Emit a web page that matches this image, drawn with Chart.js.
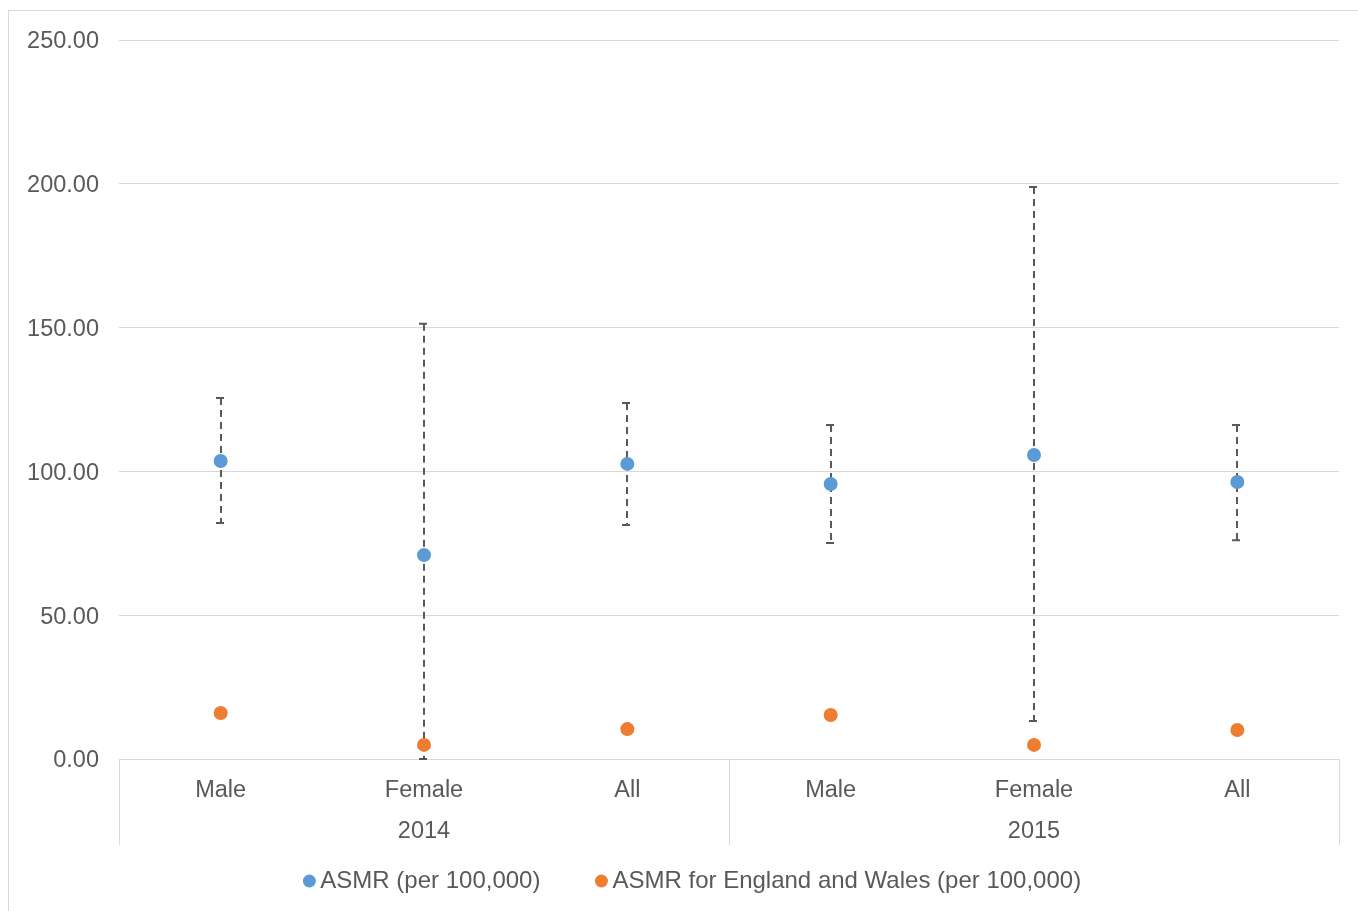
<!DOCTYPE html>
<html><head><meta charset="utf-8">
<script src="https://cdn.jsdelivr.net/npm/chart.js@4"></script>
<style>html,body{margin:0;padding:0;background:#fff}#wrap{position:absolute;left:0;top:0;width:1358px;height:911px}</style>
</head><body><div id="wrap"><canvas id="c" width="1358" height="911"></canvas></div>
<script>
const categories = ['Male', 'Female', 'All', 'Male', 'Female', 'All'];
const years = ['2014', '2015'];
const asmr = [103.6, 70.9, 102.6, 95.6, 105.7, 96.3];
const asmrLower = [82.1, 0.0, 81.4, 75.1, 13.2, 76.1];
const asmrUpper = [125.5, 151.3, 123.8, 116.1, 198.9, 116.1];
const asmrEW = [16.0, 4.9, 10.4, 15.3, 4.9, 10.1];
const seriesNames = ['ASMR (per 100,000)', 'ASMR for England and Wales (per 100,000)'];
const yTicks = [0, 50, 100, 150, 200, 250];

const FONT = '"Liberation Sans", Arial, sans-serif';
const TXT = '#595959';
const GRID = '#d9d9d9';
const BLUE = '#5b9bd5';
const ORANGE = '#ed7d31';

const frame = {
  id: 'frame',
  beforeDraw(chart) {
    const ctx = chart.ctx;
    ctx.save();
    ctx.fillStyle = '#fff';
    ctx.fillRect(0, 0, chart.width, chart.height);
    ctx.strokeStyle = GRID;
    ctx.lineWidth = 1;
    ctx.strokeRect(8.5, 10.5, 1400, 1000);
    ctx.restore();
  }
};

const errorBars = {
  id: 'errorBars',
  beforeDatasetsDraw(chart) {
    const ctx = chart.ctx, xs = chart.scales.x, ys = chart.scales.y;
    ctx.save();
    ctx.strokeStyle = '#595959';
    ctx.lineWidth = 2;
    for (let i = 0; i < asmr.length; i++) {
      const x = Math.round(xs.getPixelForValue(i));
      const yl = ys.getPixelForValue(asmrLower[i]);
      const yu = ys.getPixelForValue(asmrUpper[i]);
      ctx.setLineDash([7, 5]);
      ctx.beginPath();
      ctx.moveTo(x, yu);
      ctx.lineTo(x, yl);
      ctx.stroke();
      ctx.setLineDash([]);
      ctx.beginPath();
      ctx.moveTo(x - 5, yu); ctx.lineTo(x + 3, yu);
      ctx.moveTo(x - 5, yl); ctx.lineTo(x + 3, yl);
      ctx.stroke();
    }
    ctx.restore();
  }
};

const groups = {
  id: 'groups',
  afterDraw(chart) {
    const ctx = chart.ctx, xs = chart.scales.x;
    const per = categories.length / years.length;
    const step = (xs.right - xs.left) / categories.length;
    ctx.save();
    ctx.strokeStyle = GRID;
    ctx.lineWidth = 1;
    for (let g = 0; g <= years.length; g++) {
      const x = Math.round(xs.left + g * per * step) + 0.5;
      ctx.beginPath();
      ctx.moveTo(x, xs.top);
      ctx.lineTo(x, 845);
      ctx.stroke();
    }
    ctx.fillStyle = TXT;
    ctx.font = '23.5px ' + FONT;
    ctx.textAlign = 'center';
    ctx.textBaseline = 'middle';
    years.forEach((yr, g) => {
      const cx = xs.left + (g + 0.5) * per * step;
      ctx.fillText(yr, cx, 832);
    });
    // legend
    ctx.font = '24px ' + FONT;
    const colors = [BLUE, ORANGE];
    const r = 6.5, gap = 4.5, spacing = 54.5;
    const widths = seriesNames.map(s => ctx.measureText(s).width);
    const total = widths.reduce((a, w) => a + 2 * r + gap + w, 0) + spacing;
    let x = 692 - total / 2;
    const y = 881;
    ctx.textAlign = 'left';
    seriesNames.forEach((s, i) => {
      ctx.fillStyle = colors[i];
      ctx.beginPath();
      ctx.arc(x + r, y, r, 0, Math.PI * 2);
      ctx.fill();
      ctx.fillStyle = TXT;
      ctx.fillText(s, x + 2 * r + gap, y);
      x += 2 * r + gap + widths[i] + spacing;
    });
    ctx.restore();
  }
};

new Chart(document.getElementById('c'), {
  type: 'line',
  data: {
    labels: categories,
    datasets: [
      { label: seriesNames[0], data: asmr, showLine: false, pointRadius: 7, pointBackgroundColor: BLUE, pointBorderWidth: 0, borderColor: BLUE, pointHoverRadius: 7 },
      { label: seriesNames[1], data: asmrEW, showLine: false, pointRadius: 7, pointBackgroundColor: ORANGE, pointBorderWidth: 0, borderColor: ORANGE, pointHoverRadius: 7 }
    ]
  },
  options: {
    responsive: false,
    animation: false,
    devicePixelRatio: 1,
    layout: { padding: { left: 0, top: 40, right: 19, bottom: 66 } },
    plugins: { legend: { display: false }, tooltip: { enabled: false } },
    events: [],
    scales: {
      x: {
        offset: true,
        grid: { display: false, drawTicks: false },
        border: { display: true, color: GRID, width: 1 },
        ticks: { color: TXT, font: { family: FONT, size: 23.5 }, padding: 17, maxRotation: 0, autoSkip: false },
        afterFit(s) { s.height = 86; }
      },
      y: {
        min: 0, max: 250,
        grid: { color: GRID, lineWidth: 1, drawTicks: false },
        border: { display: false },
        ticks: { color: TXT, font: { family: FONT, size: 23.5 }, padding: 20, labelOffset: 2, callback: v => Number(v).toFixed(2) },
        afterBuildTicks(s) { s.ticks = yTicks.map(v => ({ value: v })); },
        afterFit(s) { s.width = 119; }
      }
    }
  },
  plugins: [frame, errorBars, groups]
});
</script></body></html>
